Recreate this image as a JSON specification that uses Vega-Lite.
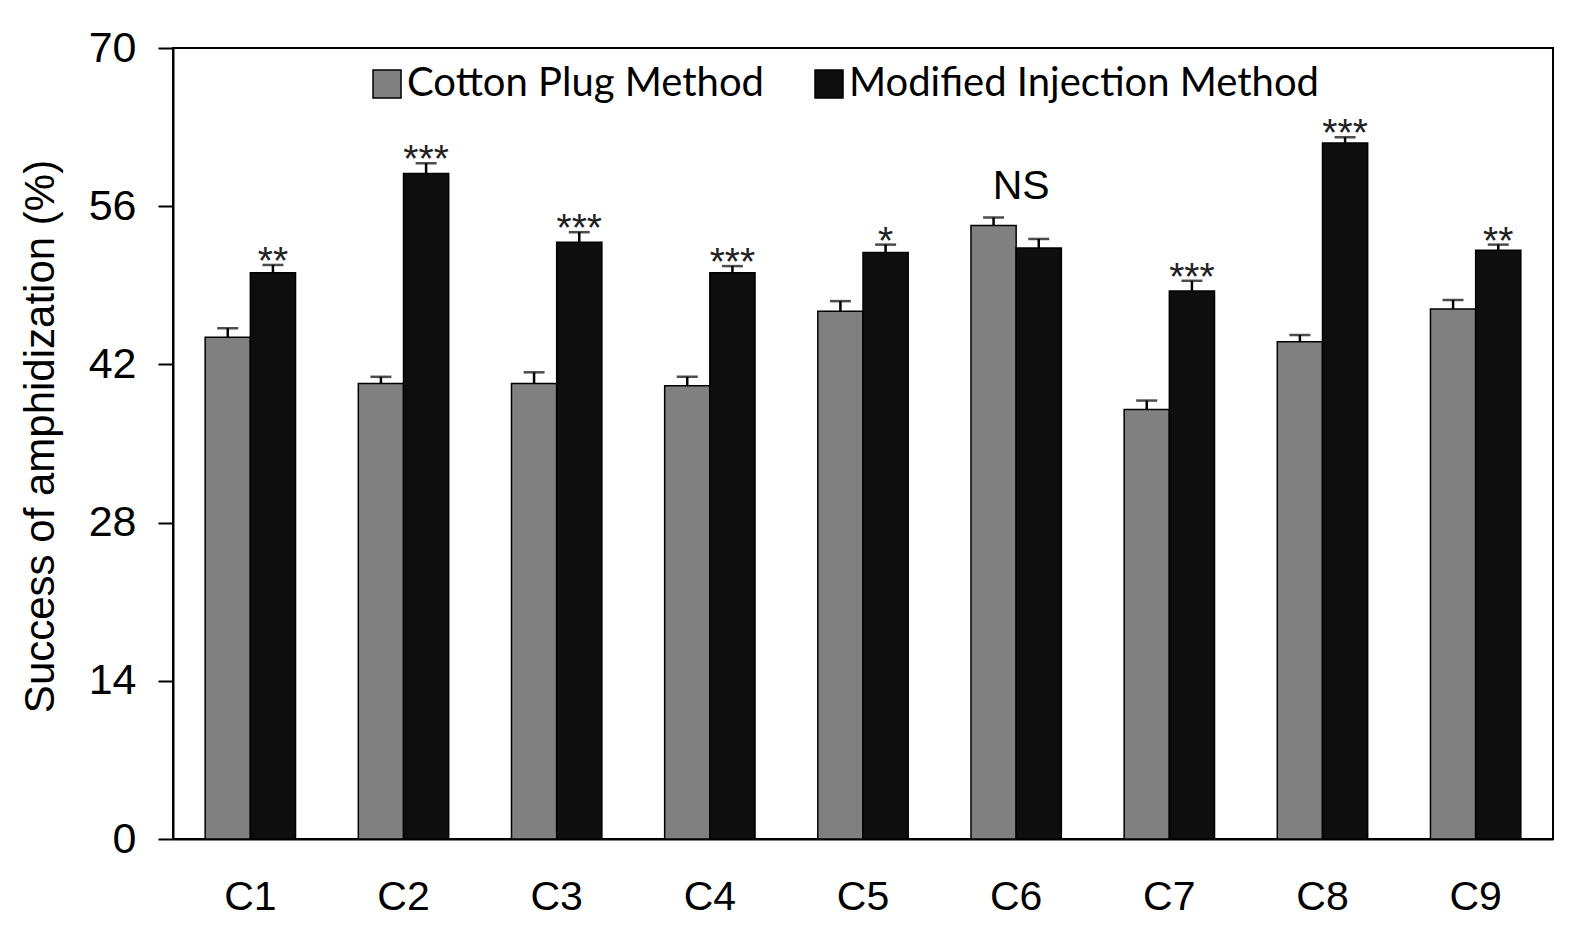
{
  "$schema": "https://vega.github.io/schema/vega-lite/v6.json",
  "width": 1380,
  "height": 791,
  "autosize": {"type": "none"},
  "padding": {"left": 173, "top": 48, "right": 33, "bottom": 105},
  "background": "white",
  "config": {
    "view": {"stroke": "#000", "strokeWidth": 2},
    "font": "Liberation Sans",
    "axis": {"domainColor": "#000", "domainWidth": 2, "grid": false, "labelColor": "#000", "tickColor": "#000", "titleColor": "#000", "labelFont": "Liberation Sans", "titleFont": "Liberation Sans"}
  },
  "data": {
    "values": [
      {"cat": "C1", "method": "Cotton Plug Method", "value": 44.4, "upper": 45.2},
      {"cat": "C1", "method": "Modified Injection Method", "value": 50.1, "upper": 50.8, "sig": "**"},
      {"cat": "C2", "method": "Cotton Plug Method", "value": 40.3, "upper": 40.9},
      {"cat": "C2", "method": "Modified Injection Method", "value": 58.9, "upper": 59.8, "sig": "***"},
      {"cat": "C3", "method": "Cotton Plug Method", "value": 40.3, "upper": 41.3},
      {"cat": "C3", "method": "Modified Injection Method", "value": 52.8, "upper": 53.7, "sig": "***"},
      {"cat": "C4", "method": "Cotton Plug Method", "value": 40.1, "upper": 40.9},
      {"cat": "C4", "method": "Modified Injection Method", "value": 50.1, "upper": 50.7, "sig": "***"},
      {"cat": "C5", "method": "Cotton Plug Method", "value": 46.7, "upper": 47.6},
      {"cat": "C5", "method": "Modified Injection Method", "value": 51.9, "upper": 52.6, "sig": "*"},
      {"cat": "C6", "method": "Cotton Plug Method", "value": 54.3, "upper": 55.0},
      {"cat": "C6", "method": "Modified Injection Method", "value": 52.3, "upper": 53.1, "sig": "NS"},
      {"cat": "C7", "method": "Cotton Plug Method", "value": 38.0, "upper": 38.8},
      {"cat": "C7", "method": "Modified Injection Method", "value": 48.5, "upper": 49.4, "sig": "***"},
      {"cat": "C8", "method": "Cotton Plug Method", "value": 44.0, "upper": 44.6},
      {"cat": "C8", "method": "Modified Injection Method", "value": 61.6, "upper": 62.1, "sig": "***"},
      {"cat": "C9", "method": "Cotton Plug Method", "value": 46.9, "upper": 47.7},
      {"cat": "C9", "method": "Modified Injection Method", "value": 52.1, "upper": 52.6, "sig": "**"}
    ]
  },
  "encoding": {
    "x": {
      "field": "cat", "type": "nominal",
      "scale": {"paddingInner": 0.41, "paddingOuter": 0.21},
      "axis": {"title": null, "labelAngle": 0, "labelFontSize": 41, "labelPadding": 38, "ticks": false}
    }
  },
  "layer": [
    {
      "mark": {"type": "bar", "stroke": "#000", "strokeWidth": 1.5},
      "encoding": {
        "xOffset": {"field": "method", "type": "nominal", "scale": {"domain": ["Cotton Plug Method", "Modified Injection Method"], "paddingInner": 0, "paddingOuter": 0}},
        "y": {
          "field": "value", "type": "quantitative",
          "scale": {"domain": [0, 70], "nice": false, "zero": true},
          "axis": {
            "values": [0, 14, 28, 42, 56, 70], "tickSize": 15, "tickWidth": 2, "labelFontSize": 43, "labelPadding": 22,
            "title": "Success of amphidization (%)", "titleFontSize": 42, "titleFontWeight": "normal",
            "titleAngle": -90, "titleX": -120, "titleY": 388, "titleAlign": "center", "titleBaseline": "alphabetic"
          }
        },
        "color": {
          "field": "method", "type": "nominal",
          "scale": {"domain": ["Cotton Plug Method", "Modified Injection Method"], "range": ["#808080", "#0e0e0e"]},
          "legend": {
            "orient": "none", "legendX": 194, "legendY": 16, "direction": "horizontal", "title": null,
            "labelFont": "Lato", "labelFontSize": 40, "labelColor": "#000", "labelLimit": 0,
            "symbolType": "square", "symbolSize": 784, "symbolStrokeColor": "#000", "symbolStrokeWidth": 1.5,
            "labelOffset": 0, "columnPadding": 44, "padding": 0
          }
        }
      }
    },
    {
      "mark": {"type": "rule", "color": "#000", "strokeWidth": 2.5},
      "encoding": {
        "xOffset": {"field": "method", "type": "nominal", "scale": {"domain": ["Cotton Plug Method", "Modified Injection Method"], "paddingInner": 0, "paddingOuter": 0}},
        "y": {"field": "value", "type": "quantitative"},
        "y2": {"field": "upper"}
      }
    },
    {
      "mark": {"type": "tick", "color": "#000", "thickness": 2.5, "size": 21, "orient": "horizontal"},
      "encoding": {
        "xOffset": {"field": "method", "type": "nominal", "scale": {"domain": ["Cotton Plug Method", "Modified Injection Method"], "paddingInner": 0, "paddingOuter": 0}},
        "y": {"field": "upper", "type": "quantitative"}
      }
    },
    {
      "transform": [{"filter": "datum.sig && datum.sig !== 'NS'"}],
      "mark": {"type": "text", "fontSize": 39, "baseline": "alphabetic", "align": "center", "dy": 9, "color": "#222", "font": "Liberation Sans"},
      "encoding": {
        "xOffset": {"field": "method", "type": "nominal", "scale": {"domain": ["Cotton Plug Method", "Modified Injection Method"], "paddingInner": 0, "paddingOuter": 0}},
        "y": {"field": "upper", "type": "quantitative"},
        "text": {"field": "sig"}
      }
    },
    {
      "transform": [
        {"joinaggregate": [{"op": "max", "field": "upper", "as": "grpmax"}], "groupby": ["cat"]},
        {"filter": "datum.sig === 'NS'"}
      ],
      "mark": {"type": "text", "fontSize": 41, "baseline": "alphabetic", "align": "center", "dy": -19, "dx": 5, "color": "#000", "font": "Liberation Sans"},
      "encoding": {
        "y": {"field": "grpmax", "type": "quantitative"},
        "text": {"field": "sig"}
      }
    }
  ]
}
